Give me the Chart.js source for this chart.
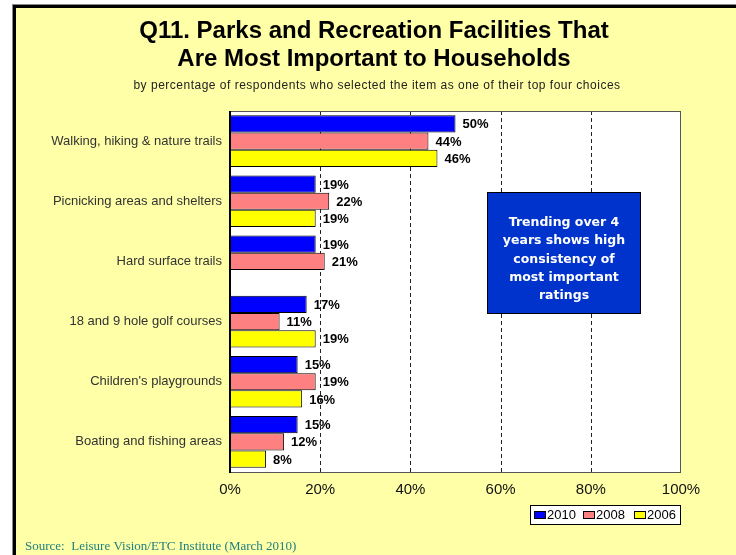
<!DOCTYPE html>
<html>
<head>
<meta charset="utf-8">
<script src="https://cdn.jsdelivr.net/npm/chart.js@4"></script>
<style>
html,body{margin:0;padding:0;background:#fff;}
#wrap{width:736px;height:555px;position:relative;}
</style>
</head>
<body>
<div id="wrap"><canvas id="c" width="736" height="555"></canvas></div>
<script>
const categories = [
  "Walking, hiking & nature trails",
  "Picnicking areas and shelters",
  "Hard surface trails",
  "18 and 9 hole golf courses",
  "Children's playgrounds",
  "Boating and fishing areas"
];
const values2010 = [50, 19, 19, 17, 15, 15];
const values2008 = [44, 22, 21, 11, 19, 12];
const values2006 = [46, 19, null, 19, 16, 8];
const seriesNames = ["2010", "2008", "2006"];
const xTicks = [0, 20, 40, 60, 80, 100];
const titleLines = ["Q11. Parks and Recreation Facilities That", "Are Most Important to Households"];
const subtitleText = "by percentage of respondents who selected the item as one of their top four choices";
const noteLines = ["Trending over 4", "years shows high", "consistency of", "most important", "ratings"];
const sourceText = "Source:  Leisure Vision/ETC Institute (March 2010)";

const colors = ["#0000FF", "#FF8080", "#FFFF00"];

const decor = {
  id: 'decor',
  beforeDraw(chart) {
    const ctx = chart.ctx;
    ctx.save();
    ctx.fillStyle = '#fff';
    ctx.fillRect(0, 0, 736, 555);
    ctx.fillStyle = '#FFFFA8';
    ctx.fillRect(12, 4, 724, 551);
    ctx.fillStyle = '#888';
    ctx.fillRect(12, 4, 724, 1);
    ctx.fillRect(12, 4, 1, 551);
    ctx.fillStyle = '#000';
    ctx.fillRect(13, 5, 723, 3);
    ctx.fillRect(13, 5, 3, 550);
    const a = chart.chartArea;
    ctx.fillStyle = '#fff';
    ctx.fillRect(a.left, a.top, a.right - a.left, a.bottom - a.top);
    ctx.restore();
  },
  beforeDatasetsDraw(chart) {
    const ctx = chart.ctx;
    const a = chart.chartArea;
    ctx.save();
    // value labels
    ctx.fillStyle = '#000';
    ctx.font = 'bold 13px "Liberation Sans", Arial, sans-serif';
    ctx.textAlign = 'left';
    ctx.textBaseline = 'middle';
    chart.data.datasets.forEach((ds, di) => {
      const meta = chart.getDatasetMeta(di);
      meta.data.forEach((bar, i) => {
        const v = ds.data[i];
        if (v === null || v === undefined) return;
        ctx.fillText(v + '%', bar.x + 7, bar.y + 1);
      });
    });
    // dashed grid
    const xs = chart.scales.x;
    ctx.strokeStyle = '#222';
    ctx.lineWidth = 1;
    ctx.setLineDash([4, 3]);
    xTicks.forEach(v => {
      if (v === 0 || v === 100) return;
      const x = Math.round(xs.getPixelForValue(v)) + 0.5;
      ctx.beginPath();
      ctx.moveTo(x, a.top);
      ctx.lineTo(x, a.bottom);
      ctx.stroke();
    });
    ctx.restore();
  },
  afterDraw(chart) {
    const ctx = chart.ctx;
    const a = chart.chartArea;
    ctx.save();
    // plot frame
    ctx.strokeStyle = '#555';
    ctx.lineWidth = 1;
    ctx.strokeRect(a.left + 0.5, a.top + 0.5, a.right - a.left - 1, a.bottom - a.top);
    ctx.fillStyle = '#000';
    ctx.fillRect(a.left - 1, a.top, 2, a.bottom - a.top + 1);
    // title
    ctx.fillStyle = '#000';
    ctx.textAlign = 'center';
    ctx.textBaseline = 'middle';
    ctx.font = 'bold 24px "Liberation Sans", Arial, sans-serif';
    ctx.fillText(titleLines[0], 374, 31);
    ctx.fillText(titleLines[1], 374, 59);
    ctx.font = '12px "Liberation Sans", Arial, sans-serif';
    ctx.letterSpacing = '0.5px';
    ctx.fillStyle = '#222';
    ctx.fillText(subtitleText, 377, 86);
    ctx.letterSpacing = '0px';
    // note box
    ctx.fillStyle = '#0033CC';
    ctx.fillRect(487, 192, 154, 122);
    ctx.strokeStyle = '#000';
    ctx.strokeRect(487.5, 192.5, 153, 121);
    ctx.fillStyle = '#fff';
    ctx.font = 'bold 12.5px "DejaVu Sans", Verdana, sans-serif';
    noteLines.forEach((t, i) => ctx.fillText(t, 564, 223 + i * 18.2));
    // legend
    ctx.fillStyle = '#fff';
    ctx.fillRect(530, 505, 151, 20);
    ctx.strokeStyle = '#000';
    ctx.strokeRect(530.5, 505.5, 150, 19);
    const lx = [534, 583, 634];
    ctx.font = '13px "Liberation Sans", Arial, sans-serif';
    ctx.textAlign = 'left';
    seriesNames.forEach((n, i) => {
      ctx.fillStyle = colors[i];
      ctx.fillRect(lx[i], 511, 12, 8);
      ctx.strokeStyle = '#000';
      ctx.strokeRect(lx[i] + 0.5, 511.5, 11, 7);
      ctx.fillStyle = '#000';
      ctx.fillText(n, lx[i] + 13, 515.5);
    });
    // source
    ctx.fillStyle = '#1F8080';
    ctx.font = '13px "Liberation Serif", "Times New Roman", serif';
    ctx.textAlign = 'left';
    ctx.fillText(sourceText, 25, 547);
    ctx.restore();
  }
};

new Chart(document.getElementById('c'), {
  type: 'bar',
  data: {
    labels: categories,
    datasets: [
      { label: seriesNames[0], data: values2010, backgroundColor: colors[0] },
      { label: seriesNames[1], data: values2008, backgroundColor: colors[1] },
      { label: seriesNames[2], data: values2006, backgroundColor: colors[2] }
    ].map(d => Object.assign(d, { borderColor: '#000', borderWidth: 1, categoryPercentage: 0.86, barPercentage: 1.0 }))
  },
  options: {
    indexAxis: 'y',
    responsive: false,
    animation: false,
    layout: { padding: { left: 0, right: 55, top: 111, bottom: 0 } },
    plugins: { legend: { display: false }, tooltip: { enabled: false }, title: { display: false } },
    scales: {
      x: {
        min: 0, max: 100,
        afterBuildTicks(scale) { scale.ticks = xTicks.map(v => ({ value: v })); },
        afterFit(scale) { scale.height = 83; },
        ticks: {
          padding: 9,
          color: '#111',
          font: { family: '"Liberation Sans", Arial, sans-serif', size: 15 },
          callback: v => v + '%'
        },
        grid: { display: false, drawTicks: false },
        border: { display: false }
      },
      y: {
        afterFit(scale) { scale.width = 230; },
        ticks: {
          padding: 8,
          color: '#333',
          font: { family: '"Liberation Sans", Arial, sans-serif', size: 13 }
        },
        grid: { display: false, drawTicks: false },
        border: { display: false }
      }
    }
  },
  plugins: [decor]
});
</script>
</body>
</html>
